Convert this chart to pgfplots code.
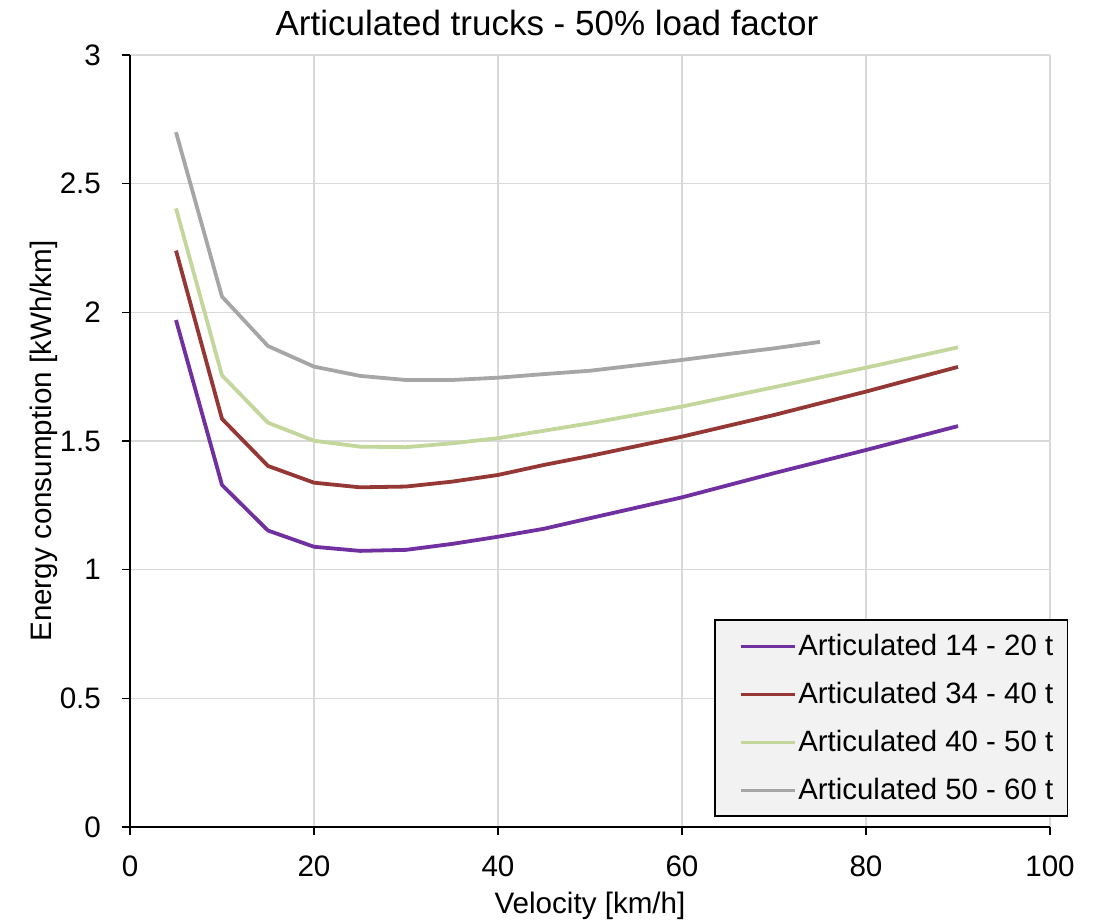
\documentclass[border=0pt]{standalone}
\usepackage{fontspec}
\setmainfont{Liberation Sans}
\usepackage{pgfplots}
\pgfplotsset{compat=1.18}
\definecolor{cPurple}{HTML}{7030A0}
\definecolor{cRed}{HTML}{953735}
\definecolor{cGreen}{HTML}{C3D69B}
\definecolor{cGray}{HTML}{A6A6A6}
\definecolor{cGrid}{HTML}{D9D9D9}
\definecolor{cLeg}{HTML}{F2F2F2}
\begin{document}
\begin{tikzpicture}
\path[use as bounding box] (-65pt,-48pt) rectangle (485pt,413.5pt);
\begin{axis}[
  at={(0,0)}, anchor=south west,
  scale only axis, width=460pt, height=386pt,
  xmin=0, xmax=100, ymin=0, ymax=3,
  xtick={0,20,...,100}, ytick={0,0.5,...,3},
  axis x line*=bottom, axis y line*=left,
  axis line style={black, line width=0.75pt, -},
  tick style={black, line width=0.75pt},
  tick align=outside, major tick length=4pt,
  grid=major, major grid style={cGrid, line width=0.75pt},
  /pgf/number format/assume math mode=true,
  tick label style={font=\fontsize{14.8}{16}\selectfont},
  xticklabel style={yshift=-7pt},
  yticklabel style={xshift=-7pt},
  label style={font=\fontsize{14.8}{16}\selectfont},
  xlabel={Velocity [km/h]},
  ylabel={Energy consumption [kWh/km]},
  xlabel style={at={(axis description cs:0.5,0)}, anchor=base, yshift=-43pt},
  ylabel style={at={(axis description cs:-0.0848,0.5)}, anchor=base},
  title={Articulated trucks - 50\% load factor},
  title style={font=\fontsize{17.5}{19}\selectfont, at={(axis description cs:0.5,1)}, anchor=base, yshift=3.5pt, xshift=-21.5pt},
  legend style={at={(axis description cs:1.0196,0.013)}, anchor=south east, fill=cLeg, draw=black, line width=0.75pt,
    font=\fontsize{14.7}{16}\selectfont, row sep=9.8pt, inner xsep=6pt, inner ysep=6pt,
    nodes={inner xsep=1pt, inner ysep=1pt}},
  legend cell align=left,
  legend image code/.code={\path[draw=none, fill=none] (0pt,0pt) -- (34pt,0pt); \draw[#1, line width=1.5pt] (7pt,0pt) -- (34pt,0pt);},
  every axis plot/.append style={line width=1.9pt, line join=round},
]
\addplot[cPurple] coordinates {(5,1.970)(10,1.329)(15,1.152)(20,1.089)(25,1.073)(30,1.077)(35,1.100)(40,1.128)(45,1.159)(50,1.200)(60,1.281)(70,1.375)(80,1.465)(90,1.558)};
\addlegendentry{Articulated 14 - 20 t}
\addplot[cRed] coordinates {(5,2.240)(10,1.586)(15,1.403)(20,1.338)(25,1.320)(30,1.323)(35,1.342)(40,1.368)(45,1.407)(50,1.442)(60,1.517)(70,1.601)(80,1.692)(90,1.788)};
\addlegendentry{Articulated 34 - 40 t}
\addplot[cGreen] coordinates {(5,2.404)(10,1.755)(15,1.571)(20,1.501)(25,1.478)(30,1.476)(35,1.491)(40,1.511)(45,1.540)(50,1.569)(60,1.634)(70,1.709)(80,1.785)(90,1.864)};
\addlegendentry{Articulated 40 - 50 t}
\addplot[cGray] coordinates {(5,2.700)(10,2.061)(15,1.869)(20,1.789)(25,1.753)(30,1.737)(35,1.737)(40,1.746)(45,1.760)(50,1.773)(60,1.815)(65,1.838)(70,1.860)(75,1.885)};
\addlegendentry{Articulated 50 - 60 t}
\end{axis}
\end{tikzpicture}
\end{document}
